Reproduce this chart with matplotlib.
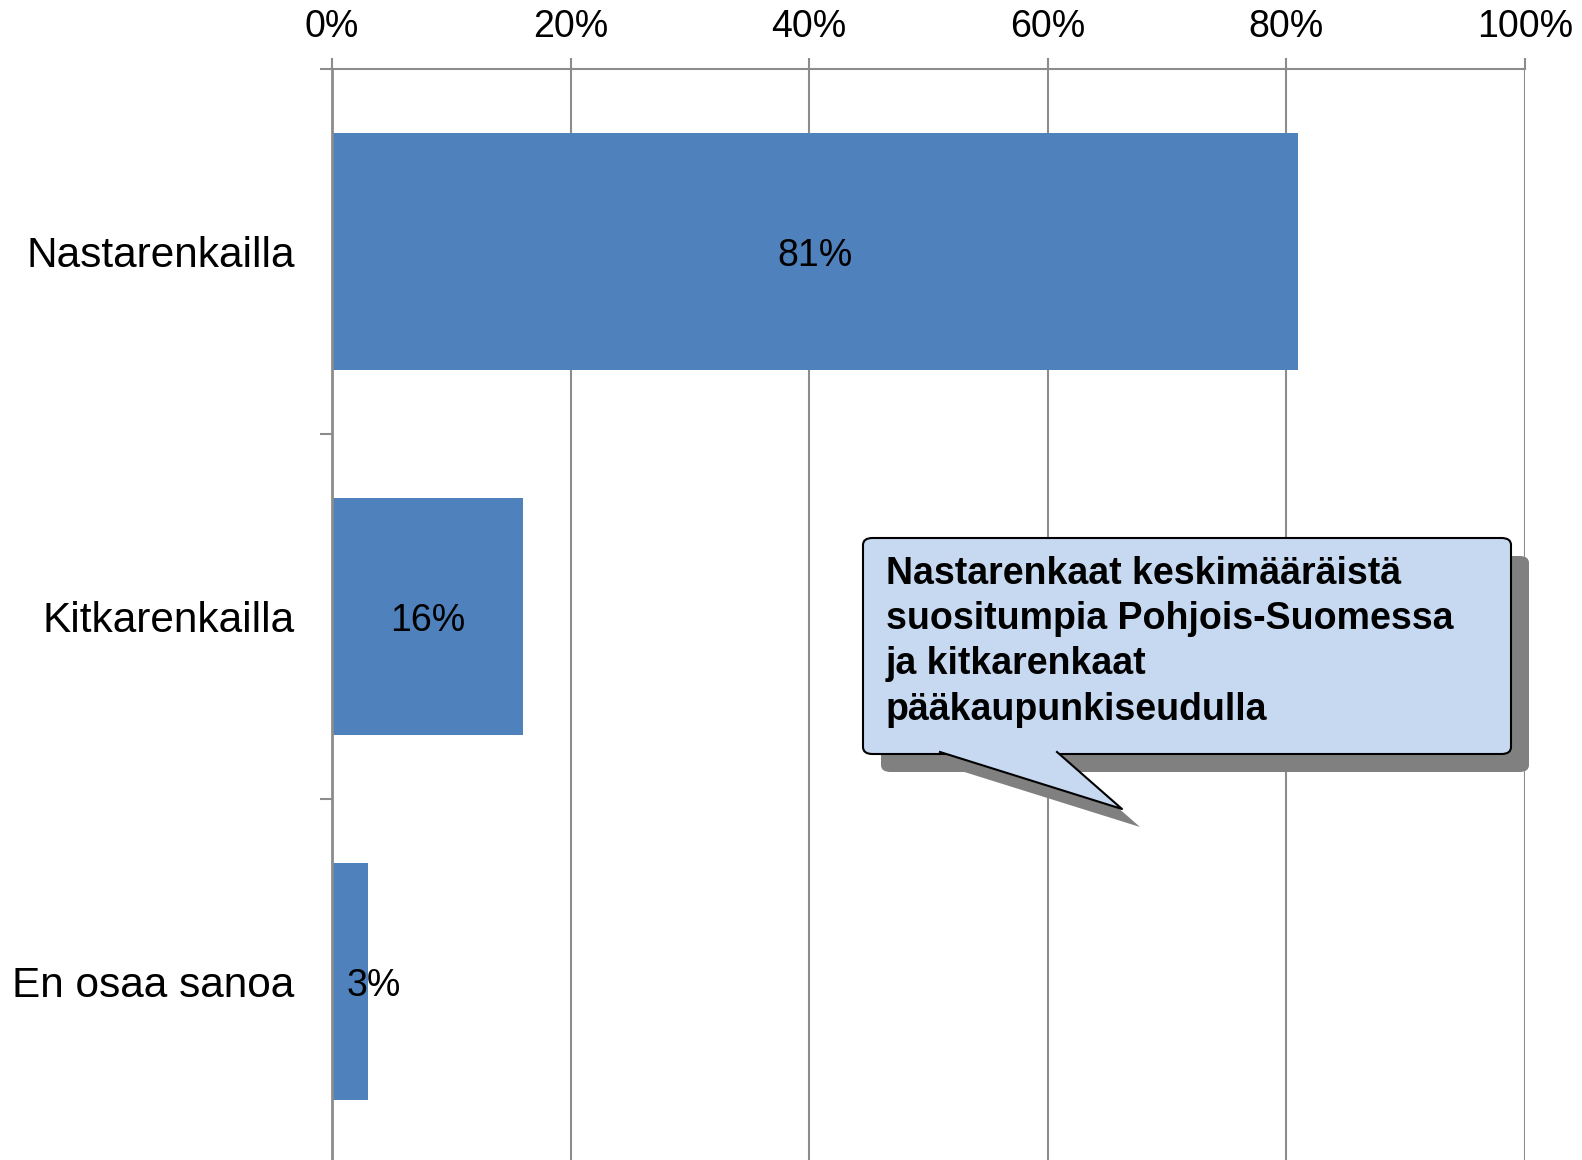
import matplotlib.pyplot as plt
from matplotlib.patches import FancyBboxPatch, Polygon
from matplotlib.lines import Line2D
from matplotlib.ticker import FixedLocator, FuncFormatter

plt.rcParams['font.family'] = ['Liberation Sans', 'DejaVu Sans']

categories = ['Nastarenkailla', 'Kitkarenkailla', 'En osaa sanoa']
values = [81, 16, 3]
value_labels = ['81%', '16%', '3%']
callout_text = ('Nastarenkaat keskimääräistä\n'
                'suositumpia Pohjois-Suomessa\n'
                'ja kitkarenkaat\n'
                'pääkaupunkiseudulla')

W, H = 1582, 1160
fig = plt.figure(figsize=(W / 100, H / 100), dpi=100)
ax = fig.add_axes([332 / W, -4 / H, (1525 - 332) / W, (1164 - 69) / H])

grid_col = '#8c8c8c'
ypos = list(range(len(categories)))
ax.barh(ypos, values, height=0.65, color='#4f81bd', zorder=2)

for y, v, lab in zip(ypos, values, value_labels):
    ax.text(max(v / 2, 3.5), y, lab, ha='center', va='center_baseline',
            fontsize=27, zorder=3)

ax.set_xlim(0, 100)
ax.set_ylim(len(categories) - 0.5, -0.5)
ax.xaxis.tick_top()
ax.set_xticks(range(0, 101, 20))
ax.xaxis.set_major_formatter(FuncFormatter(lambda v, p: f'{v:.0f}%'))
ax.tick_params(axis='x', length=8, width=1.5, color=grid_col, pad=9, labelsize=27)
ax.grid(axis='x', color=grid_col, linewidth=1.5, zorder=0)

ax.set_yticks(ypos)
ax.set_yticklabels(categories)
ax.yaxis.set_minor_locator(FixedLocator([i - 0.5 for i in range(len(categories) + 1)]))
ax.tick_params(axis='y', which='major', length=0, pad=27, labelsize=30.5)
ax.tick_params(axis='y', which='minor', length=9, width=1.5, color=grid_col)

for s in ['right', 'bottom']:
    ax.spines[s].set_visible(False)
ax.spines['left'].set_color(grid_col)
ax.spines['left'].set_linewidth(2)
ax.spines['top'].set_color(grid_col)
ax.spines['top'].set_linewidth(1.5)
ax.set_axisbelow(True)


# callout drawn in figure pixel coordinates
def px(x, y):
    return (x / W, 1 - y / H)


def callout(dx, dy, face, edge, z):
    x0, y0, x1, y1 = 863 + dx, 538 + dy, 1511 + dx, 754 + dy
    (fx0, fy1), (fx1, fy0) = px(x0, y0), px(x1, y1)
    box = FancyBboxPatch((fx0, fy0), fx1 - fx0, fy1 - fy0,
                         boxstyle='round,pad=0,rounding_size=0.006',
                         transform=fig.transFigure, facecolor=face,
                         edgecolor=edge, linewidth=1.5, zorder=z)
    fig.add_artist(box)
    tail = [px(940 + dx, 752 + dy), px(1122 + dx, 809 + dy), px(1057 + dx, 752 + dy)]
    fig.add_artist(Polygon(tail, closed=True, transform=fig.transFigure,
                           facecolor=face, edgecolor='none', zorder=z + 0.1))
    if edge != 'none':
        xs = [tail[0][0], tail[1][0], tail[2][0]]
        ys = [tail[0][1], tail[1][1], tail[2][1]]
        fig.add_artist(Line2D(xs, ys, transform=fig.transFigure, color=edge,
                              linewidth=1.5, zorder=z + 0.2))


callout(18, 18, '#808080', 'none', 10)
callout(0, 0, '#c6d9f1', 'black', 11)
fig.text(886 / W, 1 - 556 / H, callout_text, ha='left', va='top',
         fontsize=27, fontweight='bold', linespacing=1.33, zorder=13)

fig.savefig('out.png', dpi=100)
